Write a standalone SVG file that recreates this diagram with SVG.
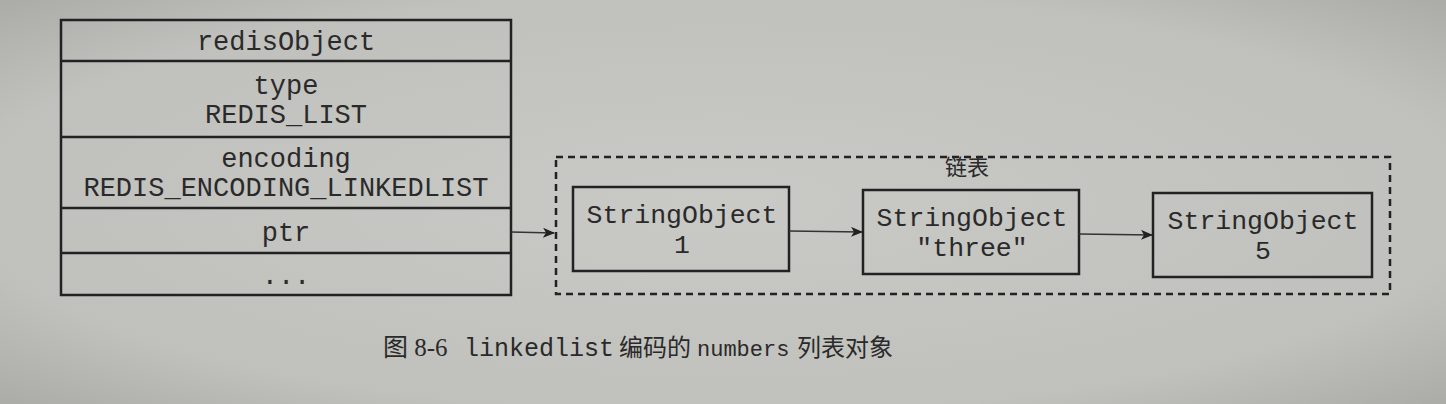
<svg xmlns="http://www.w3.org/2000/svg" width="1446" height="404" viewBox="0 0 1446 404">
<defs>
<radialGradient id="bg" cx="0.5" cy="0.5" r="0.75">
<stop offset="0" stop-color="#c9c9c6"/>
<stop offset="0.7" stop-color="#c0c0bd"/>
<stop offset="1" stop-color="#a6a6a3"/>
</radialGradient>
<marker id="arr" viewBox="0 0 12 10" refX="11" refY="5" markerWidth="12" markerHeight="10" markerUnits="userSpaceOnUse" orient="auto">
<path d="M0,0 L12,5 L0,10 L3,5 Z" fill="#222"/>
</marker>
</defs>
<style>
.box{fill:none;stroke:#222;stroke-width:2.5}
.ln{fill:none;stroke:#333;stroke-width:1.6}
.dash{fill:none;stroke:#222;stroke-width:2.5;stroke-dasharray:7 5}
.mono{font-family:"Liberation Mono","DejaVu Sans Mono",monospace;font-size:27px;fill:#2a2a2a;text-anchor:middle}
.so{font-size:26.5px}
.cjk{font-family:"Noto Sans CJK SC","Noto Sans",sans-serif;font-size:22px;fill:#2a2a2a}
.cap{font-family:"Liberation Serif","Noto Sans CJK SC",serif;font-size:25px;fill:#2a2a2a}
.capc{font-family:"Noto Sans CJK SC",serif;font-size:24px;fill:#2a2a2a}
.capm{font-family:"Liberation Mono","DejaVu Sans Mono",monospace;fill:#2a2a2a}
</style>
<rect x="0" y="0" width="1446" height="404" fill="url(#bg)"/>
<g id="redisObject">
<rect class="box" x="61" y="20" width="450" height="275"/>
<line class="box" x1="61" y1="61" x2="511" y2="61"/>
<line class="box" x1="61" y1="137" x2="511" y2="137"/>
<line class="box" x1="61" y1="208" x2="511" y2="208"/>
<line class="box" x1="61" y1="253" x2="511" y2="253"/>
<text class="mono" x="286" y="50">redisObject</text>
<text class="mono" x="286" y="94">type</text>
<text class="mono" x="286" y="123">REDIS_LIST</text>
<text class="mono" x="286" y="167">encoding</text>
<text class="mono" x="286" y="196">REDIS_ENCODING_LINKEDLIST</text>
<text class="mono" x="286" y="241">ptr</text>
<text class="mono" x="286" y="284">...</text>
</g>
<g id="linkedlist">
<rect class="dash" x="556" y="157" width="834" height="137"/>
<text class="cjk" x="945" y="175">链表</text>
</g>
<g id="so1">
<rect class="box" x="573" y="187" width="216" height="84"/>
<text class="mono so" x="682" y="223">StringObject</text>
<text class="mono so" x="682" y="253">1</text>
</g>
<g id="so2">
<rect class="box" x="863" y="190" width="216" height="84"/>
<text class="mono so" x="972" y="226">StringObject</text>
<text class="mono so" x="972" y="256">"three"</text>
</g>
<g id="so3">
<rect class="box" x="1153" y="193" width="219" height="84"/>
<text class="mono so" x="1263" y="229">StringObject</text>
<text class="mono so" x="1263" y="259">5</text>
</g>
<g id="connectors">
<line class="ln" x1="511" y1="232" x2="554" y2="233" marker-end="url(#arr)"/>
<line class="ln" x1="789" y1="231" x2="862" y2="232" marker-end="url(#arr)"/>
<line class="ln" x1="1079" y1="234" x2="1152" y2="235" marker-end="url(#arr)"/>
</g>
<g id="caption">
<text class="cap" x="383" y="356">图 8-6</text>
<text class="capm" x="464" y="356" font-size="25">linkedlist</text>
<text class="capc" x="619" y="356">编码的</text>
<text class="capm" x="697" y="356" font-size="22">numbers</text>
<text class="capc" x="797" y="356" font-size="23">列表对象</text>
</g>
</svg>
